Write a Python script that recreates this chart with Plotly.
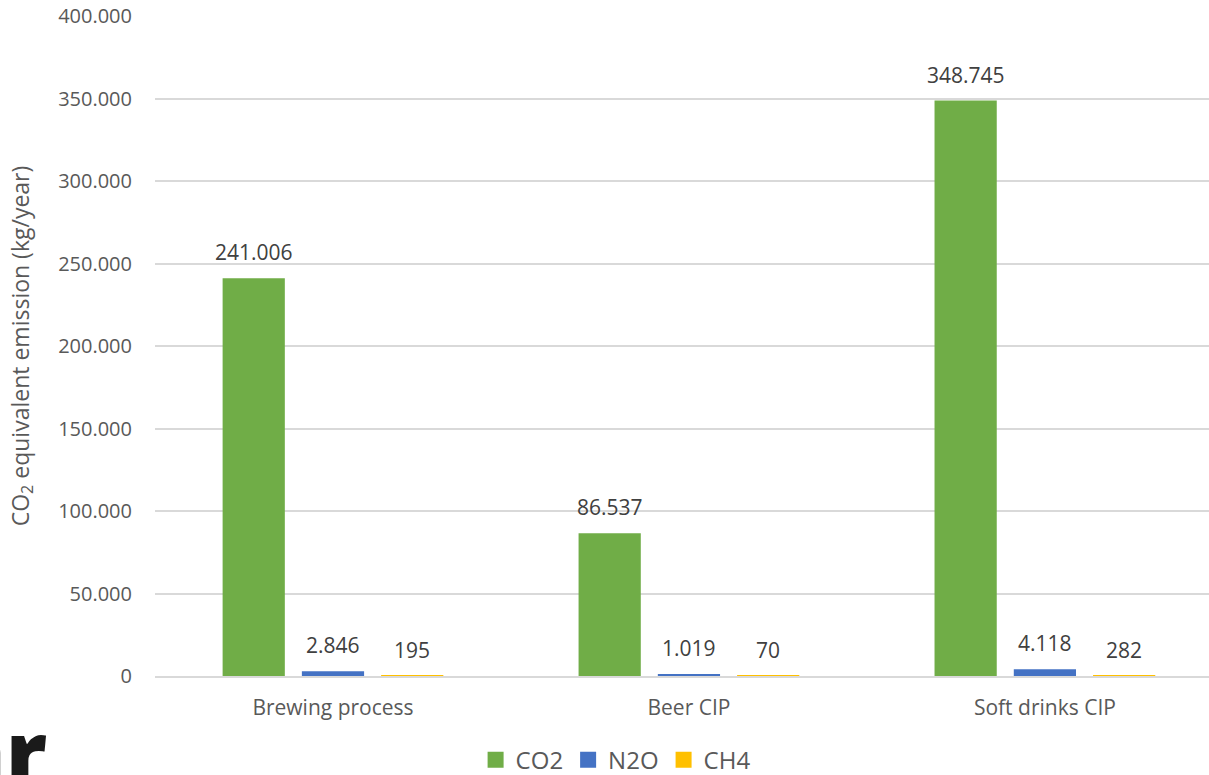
import plotly.graph_objects as go

# Annual CO2-equivalent emissions per process, split by gas
categories = ["Brewing process", "Beer CIP", "Soft drinks CIP"]
co2 = [241006, 86537, 348745]
n2o = [2846, 1019, 4118]
ch4 = [195, 70, 282]

series = [
    ("CO2", co2, "#70AD47"),
    ("N2O", n2o, "#4472C4"),
    ("CH4", ch4, "#FFC000"),
]

y_ticks = [0, 50000, 100000, 150000, 200000, 250000, 300000, 350000, 400000]

FONT = "Open Sans"
TICK_COLOR = "#595959"
LABEL_COLOR = "#404040"
GRID = "#D9D9D9"


def fmt(v):
    # thousands grouped with a dot
    return f"{v:,}".replace(",", ".")


fig = go.Figure()
for name, vals, color in series:
    fig.add_trace(go.Bar(
        name=name,
        x=categories,
        y=vals,
        marker=dict(color=color, line=dict(width=0)),
        legendgroup=name,
        showlegend=False,
    ))

# legend entries with larger square swatches
for name, _, color in series:
    fig.add_trace(go.Scatter(
        name=name,
        x=[None], y=[None],
        mode="markers",
        marker=dict(symbol="square", size=16, color=color),
        legendgroup=name,
        showlegend=True,
    ))

# value labels above every bar
annotations = []
offsets = {"CO2": -79, "N2O": 0, "CH4": 79}
for name, vals, _ in series:
    for cat, v in zip(categories, vals):
        annotations.append(dict(
            x=cat, y=v, xref="x", yref="y",
            text=fmt(v), showarrow=False,
            xshift=offsets[name], yshift=26,
            xanchor="center", yanchor="middle",
            font=dict(family=FONT, size=21, color=LABEL_COLOR),
        ))

# heading of the following page section, cut off at the bottom edge
annotations.append(dict(
    x=-0.1003, y=-0.0194, xref="paper", yref="paper",
    text="ar", showarrow=False,
    xanchor="right", yanchor="top",
    font=dict(family=FONT, size=88, color="#1A1A1A", weight=800),
))

fig.update_layout(
    width=1209,
    height=775,
    margin=dict(l=155, r=0, t=16, b=99, autoexpand=False),
    paper_bgcolor="white",
    plot_bgcolor="white",
    separators=",.",
    barmode="group",
    bargap=0.332,
    bargroupgap=0.215,
    font=dict(family=FONT, size=21, color=TICK_COLOR),
    showlegend=True,
    legend=dict(
        orientation="h",
        x=0.437, xanchor="center",
        y=-0.1275, yanchor="middle",
        font=dict(family=FONT, size=24, color=TICK_COLOR),
        itemsizing="trace",
        itemwidth=30,
        traceorder="normal",
    ),
    annotations=annotations,
)

fig.update_xaxes(
    type="category",
    range=[-0.5, 2.461],
    showgrid=False,
    showline=True,
    linecolor=GRID,
    linewidth=2,
    ticks="",
    ticklabelstandoff=12,
    tickfont=dict(family=FONT, size=21, color=TICK_COLOR),
)

fig.update_yaxes(
    range=[0, 400000],
    tickvals=y_ticks,
    tickformat=",d",
    showgrid=True,
    gridcolor=GRID,
    gridwidth=1.5,
    zeroline=False,
    showline=False,
    ticks="",
    ticklabelstandoff=22,
    ticklabeloverflow="allow",
    tickfont=dict(family=FONT, size=20, color=TICK_COLOR),
    title=dict(
        text="CO<sub>2</sub> equivalent emission (kg/year)",
        font=dict(family=FONT, size=23, color=TICK_COLOR),
        standoff=22,
    ),
)

fig.write_html("out.html")
